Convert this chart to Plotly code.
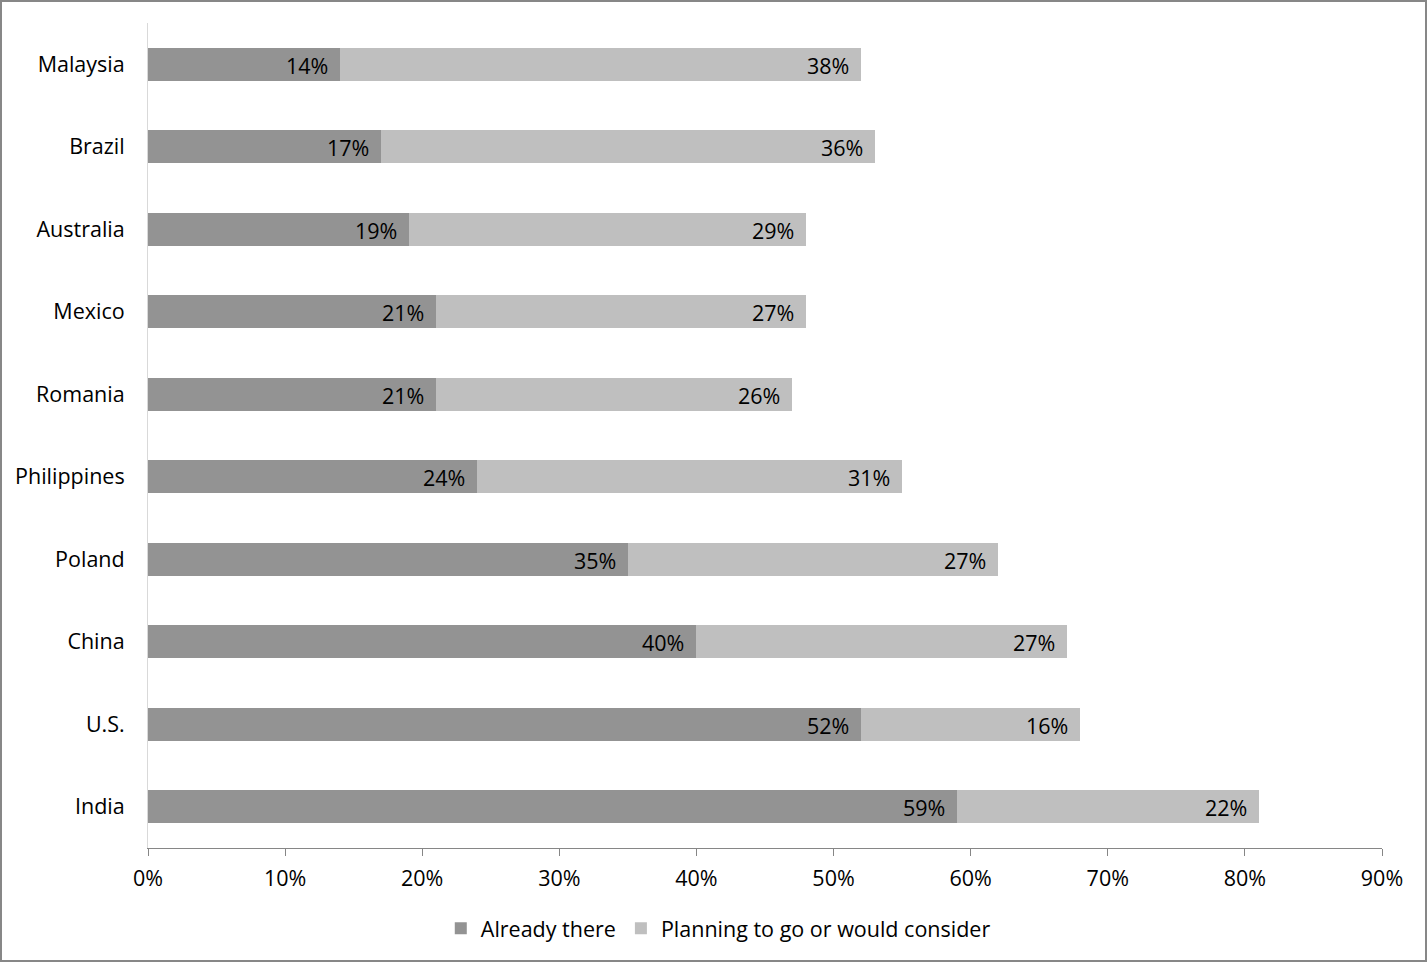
import plotly.graph_objects as go

categories = ["Malaysia", "Brazil", "Australia", "Mexico", "Romania",
              "Philippines", "Poland", "China", "U.S.", "India"]
already_there = [14, 17, 19, 21, 21, 24, 35, 40, 52, 59]
planning = [38, 36, 29, 27, 26, 31, 27, 27, 16, 22]
series_names = ["Already there", "Planning to go or would consider"]
tick_vals = [0, 10, 20, 30, 40, 50, 60, 70, 80, 90]
tick_text = [f"{v}%" for v in tick_vals]

DARK = "#939393"
LIGHT = "#bfbfbf"
FONT = "'Open Sans', Lato, sans-serif"
FS = 21.5

fig = go.Figure()
fig.add_trace(go.Bar(y=categories, x=already_there, orientation="h",
                     name=series_names[0], marker=dict(color=DARK, line=dict(width=0)),
                     width=0.4))
fig.add_trace(go.Bar(y=categories, x=planning, orientation="h",
                     name=series_names[1], marker=dict(color=LIGHT, line=dict(width=0)),
                     width=0.4))

annotations = []
for c, a, p in zip(categories, already_there, planning):
    annotations.append(dict(x=a, y=c, xref="x", yref="y", text=f"{a}%",
                            showarrow=False, xanchor="right", xshift=-10, yshift=-1,
                            font=dict(size=FS, color="black", family=FONT)))
    annotations.append(dict(x=a + p, y=c, xref="x", yref="y", text=f"{p}%",
                            showarrow=False, xanchor="right", xshift=-10, yshift=-1,
                            font=dict(size=FS, color="black", family=FONT)))

W, H = 1428, 963
ml, mr, mt, mb = 148, 46, 23, 115
pw, ph = W - ml - mr, H - mt - mb

fig.update_layout(
    width=W, height=H,
    barmode="stack",
    margin=dict(l=ml, r=mr, t=mt, b=mb, autoexpand=False),
    paper_bgcolor="white", plot_bgcolor="white",
    font=dict(family=FONT, size=FS, color="black"),
    annotations=annotations,
    showlegend=True,
    legend=dict(orientation="h", xref="container", yref="container",
                x=0.503, xanchor="center", y=0.036, yanchor="middle",
                font=dict(size=FS, family=FONT), traceorder="normal"),
    xaxis=dict(range=[0, 90], tickvals=tick_vals, ticktext=tick_text,
               showgrid=False, zeroline=False, showline=True, linecolor="#868686",
               linewidth=1, ticks="outside", ticklen=7, tickcolor="#868686",
               tickfont=dict(size=FS, family=FONT), ticklabelstandoff=4),
    yaxis=dict(autorange="reversed", showgrid=False, zeroline=False,
               showline=True, linecolor="#d9d9d9", linewidth=1, ticks="",
               tickfont=dict(size=FS, family=FONT), ticklabelstandoff=18),
    shapes=[dict(type="rect", xref="paper", yref="paper",
                 x0=(1 - ml) / pw, x1=(W - 2 - ml) / pw,
                 y0=(H - mb - (H - 2)) / ph, y1=(H - mb - 1) / ph,
                 line=dict(color="#878787", width=2), fillcolor="rgba(0,0,0,0)",
                 layer="above")],
)

fig.write_html("out.html", config={"displayModeBar": False},
               post_script="document.body.style.margin='0';document.body.style.overflow='hidden';")
